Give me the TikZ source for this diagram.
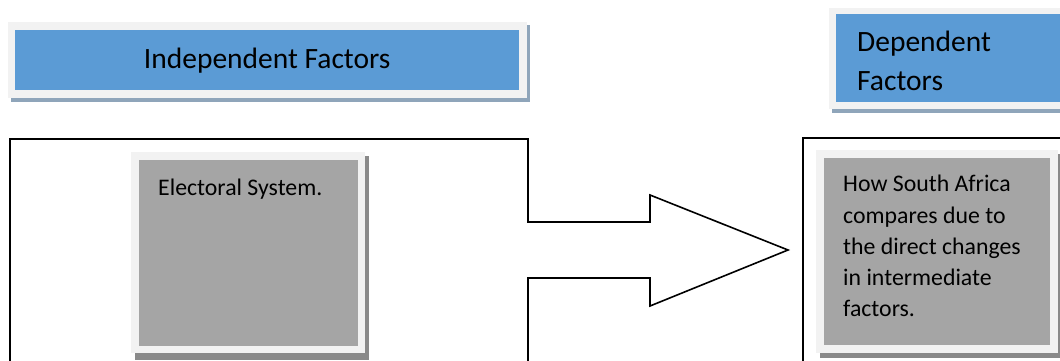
\documentclass[tikz,border=0pt]{standalone}
\usepackage{fontspec}
\setmainfont{Carlito}
\begin{document}
\begin{tikzpicture}[x=1pt,y=-1pt,
  panelline/.style={draw=black,line width=1.6pt,line join=miter},
  frame/.style={fill=frameGray,draw=none},
  blueShadow/.style={fill=blueShade,draw=none},
  grayShadow/.style={fill=grayShade,draw=none},
  titlebox/.style={fill=headBlue,draw=none},
  factorbox/.style={fill=boxGray,draw=none},
  titletext/.style={font=\fontsize{29.5}{39}\selectfont,text=black,inner sep=0pt},
  bodytext/.style={font=\fontsize{23.8}{31.3}\selectfont,text=black,inner sep=0pt,align=left}]
\definecolor{headBlue}{HTML}{5B9BD5}
\definecolor{boxGray}{HTML}{A5A5A5}
\definecolor{frameGray}{HTML}{F2F2F2}
\definecolor{blueShade}{HTML}{8FA5BA}
\definecolor{grayShade}{HTML}{8A8A8A}
\useasboundingbox (0,0) rectangle (1060,361);

% heading: independent factors
\fill[blueShadow] (11,25) rectangle (530,102);
\fill[frame] (8,22) rectangle (527,98);
\node[titlebox,minimum width=504pt,minimum height=60pt,inner sep=0pt,anchor=north west] (indep) at (15,30) {};
\node[titletext] (indepText) at (indep.center) {Independent Factors};

% heading: dependent factors
\fill[blueShadow] (832,12) rectangle (1063,113);
\fill[frame] (829,8) rectangle (1063,109);
\node[titlebox,minimum width=230pt,minimum height=88pt,inner sep=0pt,anchor=north west] (dep) at (836,14) {};
\node[titletext,align=left,anchor=north west] (depText) at (857,31) {Dependent\\Factors};

% left panel with block arrow
\coordinate (pTL) at (10,139);
\coordinate (pTR) at (528,139);
\coordinate (notchTop) at (528,222);
\coordinate (headTopIn) at (650,222);
\coordinate (headTop) at (650,195);
\coordinate (tip) at (788,250);
\coordinate (headBot) at (650,306);
\coordinate (headBotIn) at (650,278);
\coordinate (notchBot) at (528,278);
\draw[panelline] (10,365) -- (pTL) -- (pTR) -- (notchTop) -- (headTopIn) -- (headTop)
  -- (tip) -- (headBot) -- (headBotIn) -- (notchBot) -- (528,365);

% right panel
\draw[panelline] (1065,138) -- (803,138) -- (803,365);

% independent factor box
\fill[grayShadow] (135,156) rectangle (369,360);
\fill[frame] (131,152) rectangle (365,353);
\node[factorbox,minimum width=219pt,minimum height=186pt,inner sep=0pt,anchor=north west] (elec) at (139,160) {};
\node[bodytext,anchor=base west] (elecText) at (158,195) {Electoral System.};

% dependent factor box
\fill[grayShadow] (820,154) rectangle (1063,358);
\fill[frame] (816,150) rectangle (1058,353);
\node[factorbox,minimum width=226pt,minimum height=187pt,inner sep=0pt,anchor=north west] (outcome) at (824,158) {};
\node[bodytext,anchor=north west] (outcomeText) at (843,175) {How South Africa\\compares due to\\the direct changes\\in intermediate\\factors.};
\end{tikzpicture}
\end{document}
